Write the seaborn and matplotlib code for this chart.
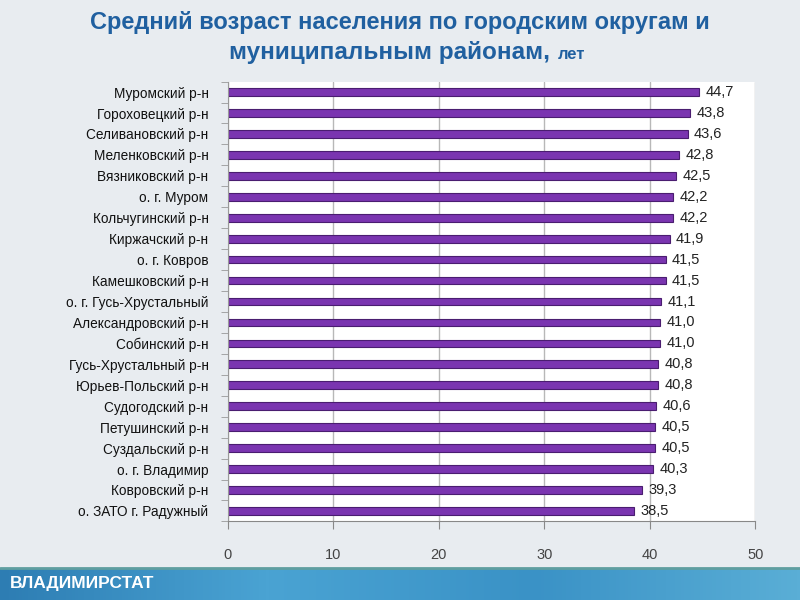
"""Average population age by district, Vladimir region."""
import matplotlib
matplotlib.use("Agg")
import matplotlib.pyplot as plt
from matplotlib.colors import LinearSegmentedColormap
import seaborn as sns
import pandas as pd
import numpy as np

sns.set_style("white")
plt.rcParams['font.family'] = ['Liberation Sans', 'DejaVu Sans']
TITLE_FONT = ['Liberation Sans', 'DejaVu Sans']

districts = [
    "Муромский р-н", "Гороховецкий р-н", "Селивановский р-н", "Меленковский р-н",
    "Вязниковский р-н", "о. г. Муром", "Кольчугинский р-н", "Киржачский р-н",
    "о. г. Ковров", "Камешковский р-н", "о. г. Гусь-Хрустальный",
    "Александровский р-н", "Собинский р-н", "Гусь-Хрустальный р-н",
    "Юрьев-Польский р-н", "Судогодский р-н", "Петушинский р-н",
    "Суздальский р-н", "о. г. Владимир", "Ковровский р-н", "о. ЗАТО г. Радужный",
]
ages = [44.7, 43.8, 43.6, 42.8, 42.5, 42.2, 42.2, 41.9, 41.5, 41.5, 41.1,
        41.0, 41.0, 40.8, 40.8, 40.6, 40.5, 40.5, 40.3, 39.3, 38.5]
x_ticks = [0, 10, 20, 30, 40, 50]

df = pd.DataFrame({"district": districts, "age": ages})

fig = plt.figure(figsize=(8, 6), dpi=100, facecolor='#e8ecf0')

# bottom banner
banner = fig.add_axes([0, 0, 1, 0.053])
grad = np.linspace(0, 1, 256).reshape(1, -1)
cmap = LinearSegmentedColormap.from_list("banner", ['#2d7db3', '#4aa3d3', '#3a92c6', '#5aaed6'])
banner.imshow(grad, aspect='auto', cmap=cmap, extent=[0, 1, 0, 1])
banner.axis('off')
fig.add_artist(plt.Line2D([0, 1], [0.053, 0.053], color='#5f9ea0', lw=2, transform=fig.transFigure))
fig.text(0.012, 0.027, "ВЛАДИМИРСТАТ", color='white', fontsize=12.5, fontweight='bold',
         va='center', ha='left', family=TITLE_FONT)

ax = fig.add_axes([0.285, 0.131, 0.659, 0.733])
ax.set_facecolor('white')
sns.barplot(data=df, x="age", y="district", ax=ax, color='#7a35b0', width=0.37,
            edgecolor='#4a1d70', linewidth=0.8, saturation=1)

for i, v in enumerate(ages):
    ax.text(v + 0.6, i, f"{v:.1f}".replace('.', ','), va='center', ha='left',
            fontsize=10.5, color='#222222')

ax.set_xlim(0, 50)
ax.set_ylim(len(districts) - 0.5, -0.5)
ax.set_xticks(x_ticks)
ax.set_xticklabels([str(t) for t in x_ticks], fontsize=10.5, color='#444444')
ax.tick_params(axis='x', length=6, direction='out', pad=13, color='#888888', bottom=True)
ax.tick_params(axis='y', length=0, pad=14, labelsize=9.8, labelcolor='#111111')
ax.set_yticks(np.arange(-0.5, len(districts), 1), minor=True)
ax.tick_params(axis='y', which='minor', length=5, color='#999999', left=True)
ax.grid(axis='x', color='#b8b8b8', linewidth=1)
ax.set_axisbelow(True)
for side in ['top', 'right']:
    ax.spines[side].set_visible(False)
ax.spines['left'].set_color('#999999')
ax.spines['bottom'].set_color('#888888')
ax.set_xlabel("")
ax.set_ylabel("")

fig.text(0.5, 0.962, "Средний возраст населения по городским округам и",
         ha='center', va='center', fontsize=17, fontweight='bold', color='#2060a0',
         family=TITLE_FONT)
fig.text(0.6875, 0.912, "муниципальным районам,", ha='right', va='center', fontsize=17.5,
         fontweight='bold', color='#2060a0', family=TITLE_FONT)
fig.text(0.697, 0.909, "лет", ha='left', va='center', fontsize=12, fontweight='bold',
         color='#2060a0', family=TITLE_FONT)

fig.savefig("out.png", dpi=100, facecolor=fig.get_facecolor())
